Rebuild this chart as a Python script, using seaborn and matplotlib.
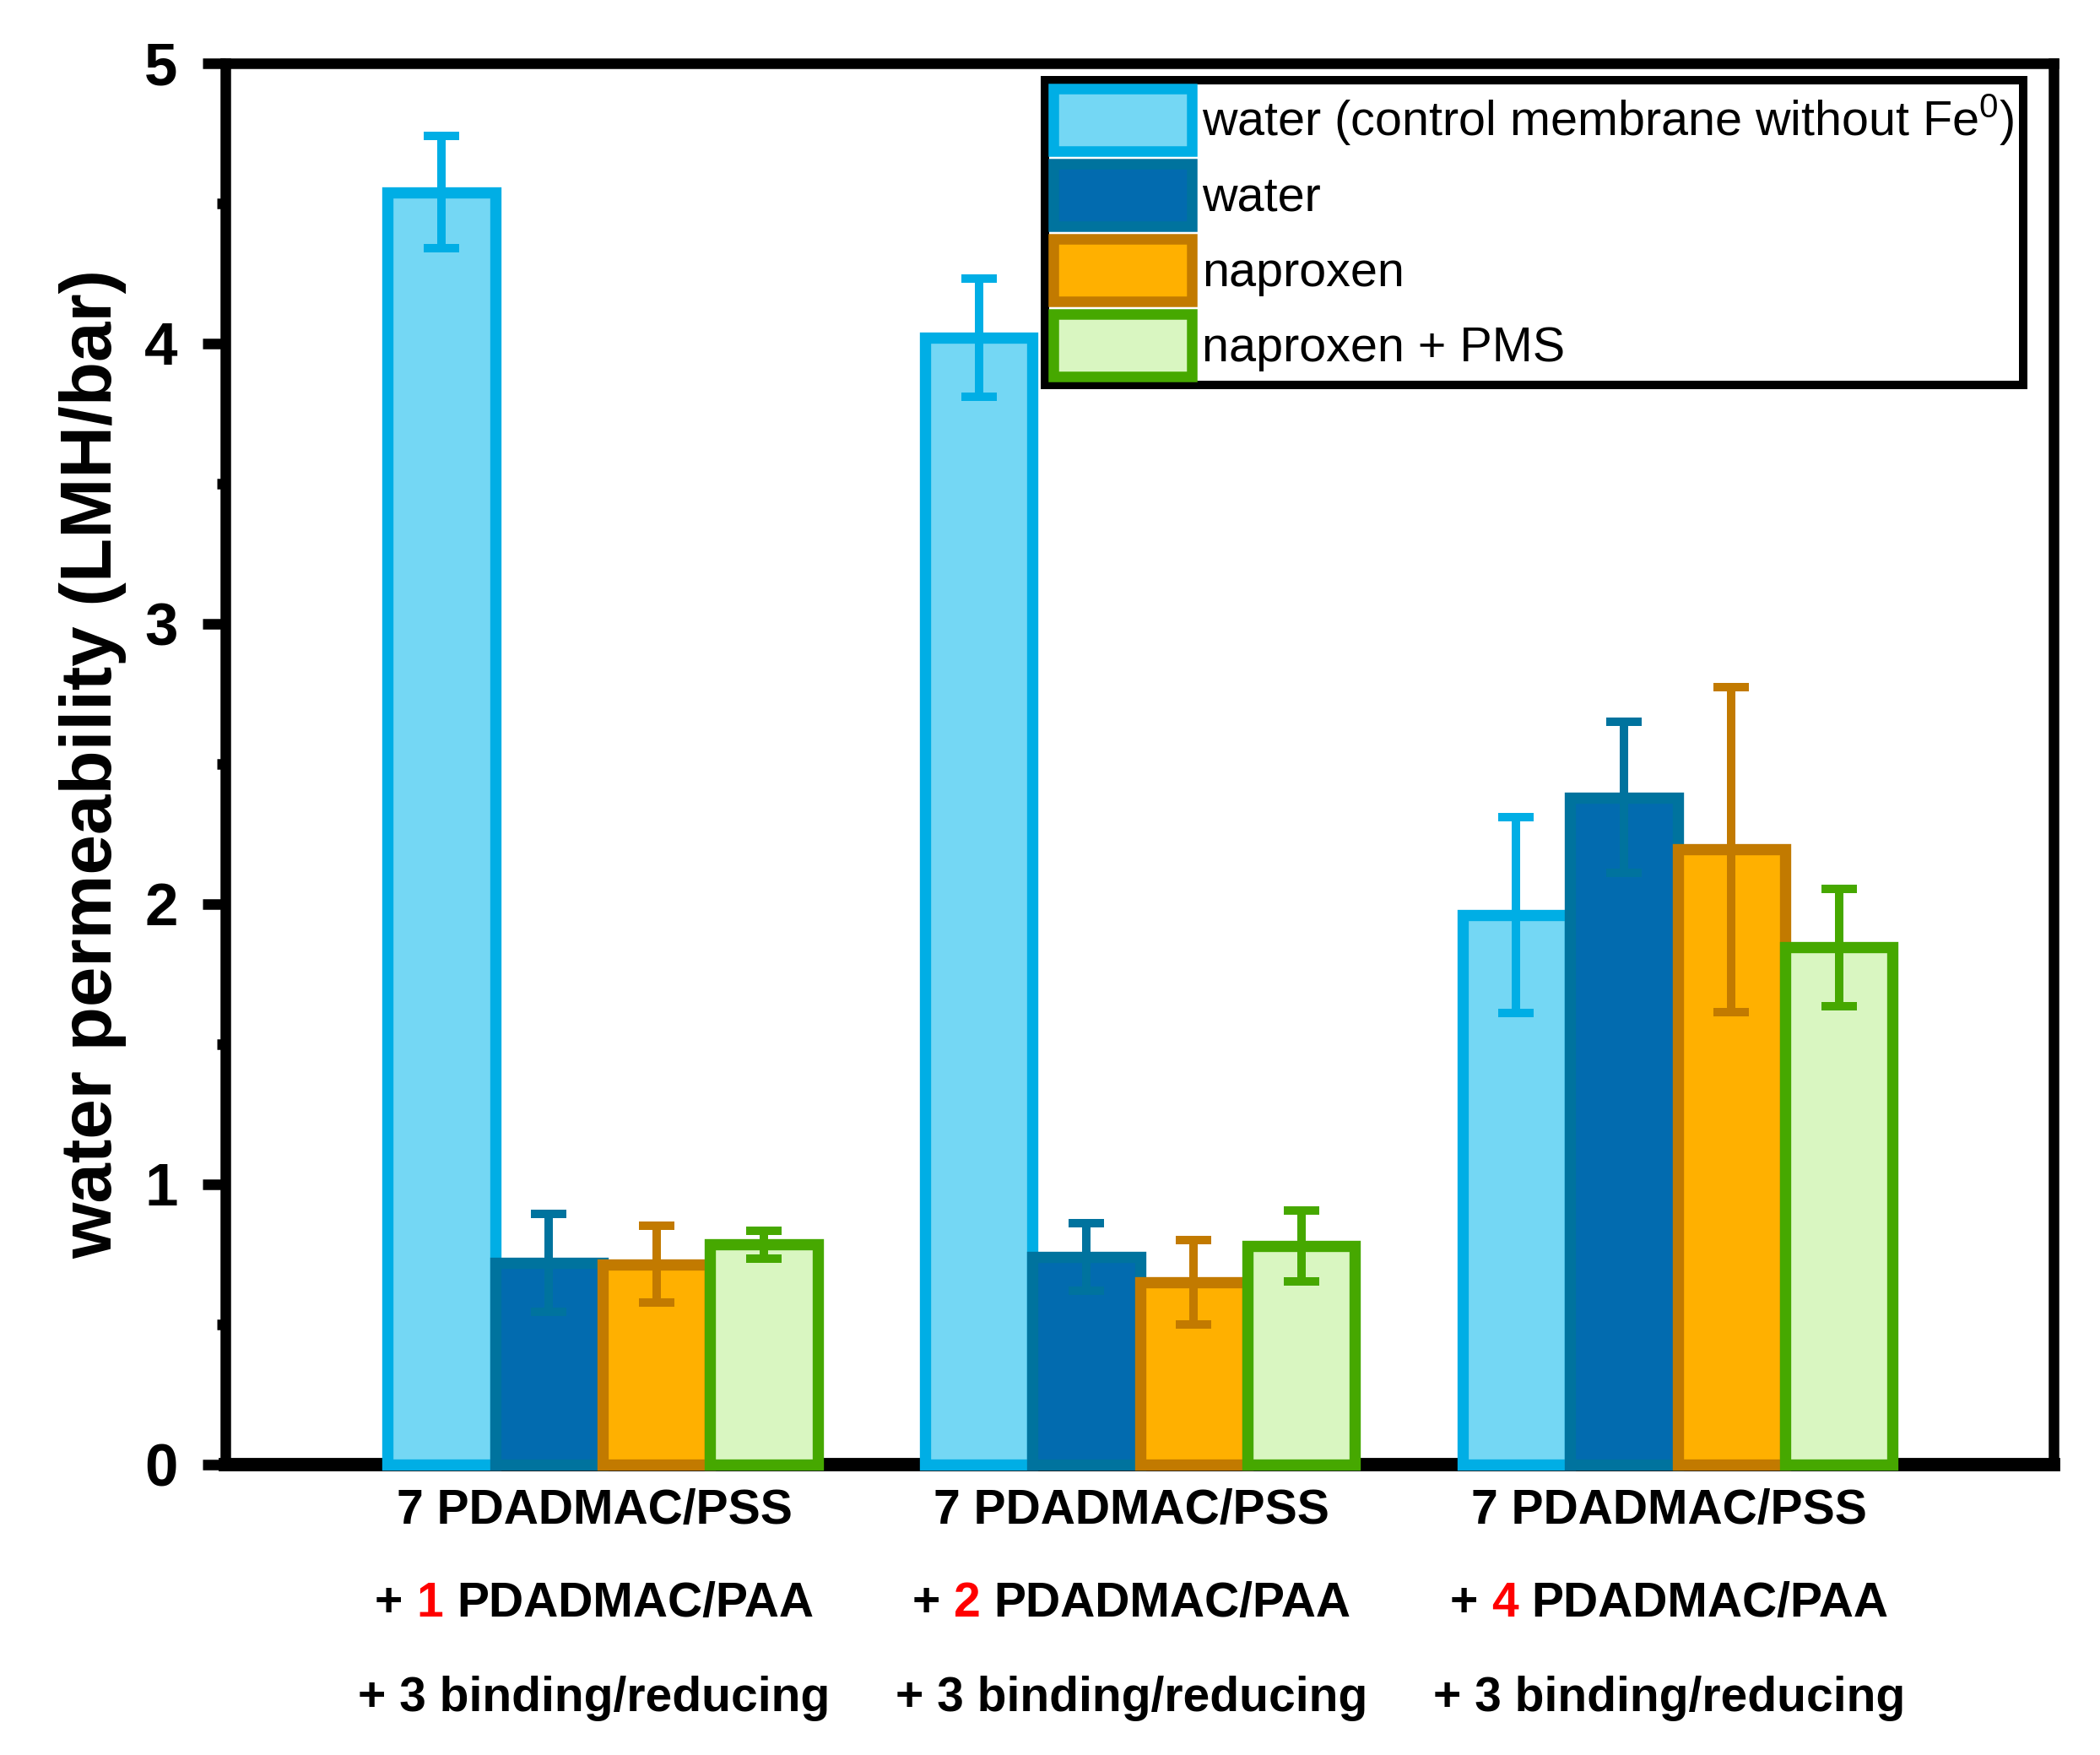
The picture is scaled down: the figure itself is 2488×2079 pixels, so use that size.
import numpy as np
import pandas as pd
import matplotlib
matplotlib.use("Agg")
import matplotlib.pyplot as plt
import seaborn as sns
from matplotlib.patches import Patch

# ---------------- data ----------------
groups = ["1 PDADMAC/PAA", "2 PDADMAC/PAA", "4 PDADMAC/PAA"]
label_line1 = "7 PDADMAC/PSS"
paa_counts = ["1", "2", "4"]
label_line3 = "+ 3 binding/reducing"

series = ["water (control membrane without Fe$^{0}$)", "water", "naproxen", "naproxen + PMS"]

control = [4.54, 4.02, 1.96]
water = [0.72, 0.74, 2.38]
naproxen = [0.715, 0.65, 2.195]
naproxen_pms = [0.785, 0.78, 1.845]

control_err = [0.20, 0.21, 0.35]
water_err = [0.175, 0.12, 0.27]
naproxen_err = [0.137, 0.15, 0.58]
naproxen_pms_err = [0.05, 0.127, 0.21]

face_colors = ["#74D7F4", "#026BAF", "#FFB000", "#D9F6C1"]
edge_colors = ["#00AEE5", "#00739E", "#C27A00", "#46A800"]

values = [control, water, naproxen, naproxen_pms]
errors = [control_err, water_err, naproxen_err, naproxen_pms_err]

df = pd.DataFrame({
    "group": np.repeat([groups], 4, axis=0).ravel(),
    "series": np.repeat(series, len(groups)),
    "value": np.concatenate(values),
})

# ---------------- style ----------------
sns.set_style("ticks")
FONT = ["Liberation Sans", "DejaVu Sans"]
plt.rcParams["font.family"] = FONT
plt.rcParams["mathtext.fontset"] = "custom"
plt.rcParams["mathtext.rm"] = "Liberation Sans"
plt.rcParams["mathtext.it"] = "Liberation Sans:italic"
plt.rcParams["mathtext.bf"] = "Liberation Sans:bold"
for key in ["text.color", "axes.labelcolor", "xtick.color", "ytick.color",
            "axes.edgecolor"]:
    plt.rcParams[key] = "black"

fig = plt.figure(figsize=(2488 / 300, 2079 / 300), dpi=300)
ax = fig.add_axes([0.1073, 0.1655, 0.978 - 0.1073, 0.964 - 0.1655])

palette = dict(zip(series, face_colors))
sns.barplot(data=df, x="group", y="value", hue="series", order=groups,
            hue_order=series, palette=palette, saturation=1, errorbar=None,
            width=0.8, linewidth=3.2, legend=False, ax=ax, zorder=3)

for cont, ec, errs in zip(ax.containers, edge_colors, errors):
    xs, ys = [], []
    for p in cont.patches:
        p.set_edgecolor(ec)
        p.set_linewidth(3.2)
        p.set_clip_on(False)
        xs.append(p.get_x() + p.get_width() / 2)
        ys.append(p.get_height())
    eb = ax.errorbar(xs, ys, yerr=errs, fmt="none", ecolor=ec, elinewidth=2.4,
                     capsize=5, capthick=2.4, zorder=5, clip_on=False)
    for cap in eb[1]:
        cap.set_solid_capstyle("round")

ax.set_xlim(-0.702, 2.70)
ax.set_ylim(0, 5)
ax.set_yticks([0, 1, 2, 3, 4, 5])
ax.set_yticks(np.arange(0.5, 5, 1.0), minor=True)
ax.set_xticks([0, 1, 2])
ax.set_xticklabels([])
ax.set_xlabel("")
ax.tick_params(axis="x", length=0)
ax.tick_params(axis="y", which="major", length=6.5, width=3, direction="out",
               pad=7, labelsize=17, colors="black")
ax.tick_params(axis="y", which="minor", length=2.5, width=3, direction="out",
               colors="black")
for lab in ax.get_yticklabels():
    lab.set_fontweight("bold")

for side in ["left", "right", "top"]:
    ax.spines[side].set_visible(True)
    ax.spines[side].set_linewidth(3)
    ax.spines[side].set_color("black")
ax.spines["bottom"].set_linewidth(3.8)
ax.spines["bottom"].set_color("black")

ax.set_ylabel("water permeability (LMH/bar)", fontsize=20.5, fontweight="bold",
              labelpad=5, color="black")

# legend
handles = [Patch(facecolor=f, edgecolor=e, linewidth=3, label=l)
           for f, e, l in zip(face_colors, edge_colors, series)]
leg = ax.legend(handles=handles, loc="upper left",
                bbox_to_anchor=(1238 / 2488, 1 - 95 / 2079),
                bbox_transform=fig.transFigure, borderaxespad=0,
                fontsize=13.8, frameon=True, fancybox=False, framealpha=1,
                edgecolor="black", handlelength=2.85, handleheight=1.62,
                labelspacing=0.25, handletextpad=0.22, borderpad=0.17,
                labelcolor="black")
leg.get_frame().set_linewidth(2.4)
leg.set_zorder(10)

# x category labels (three lines, middle line with red number)
fig.canvas.draw()
r = fig.canvas.get_renderer()
kw = dict(fontsize=13.7, fontweight="bold", family=FONT)
Wfig = fig.bbox.width
y1, y2, y3 = 1 - 1805 / 2079, 1 - 1915 / 2079, 1 - 2027 / 2079


def width_px(s):
    t = fig.text(0, 0, s, **kw)
    w = t.get_window_extent(r).width
    t.remove()
    return w


for i, n in enumerate(paa_counts):
    cx = ax.transData.transform((i, 0))[0] - 10
    fig.text(cx / Wfig, y1, label_line1, ha="center", va="baseline",
             color="black", **kw)
    fig.text(cx / Wfig, y3, label_line3, ha="center", va="baseline",
             color="black", **kw)
    full = f"+ {n} PDADMAC/PAA"
    wf = width_px(full)
    x0 = cx - wf / 2
    w_pre = width_px(f"+ {n}") - width_px(n)
    fig.text(x0 / Wfig, y2, "+", ha="left", va="baseline", color="black", **kw)
    fig.text((x0 + w_pre) / Wfig, y2, n, ha="left", va="baseline", color="red", **kw)
    fig.text((x0 + wf) / Wfig, y2, "PDADMAC/PAA", ha="right", va="baseline",
             color="black", **kw)

fig.savefig("out.png", dpi=300, facecolor="white")
